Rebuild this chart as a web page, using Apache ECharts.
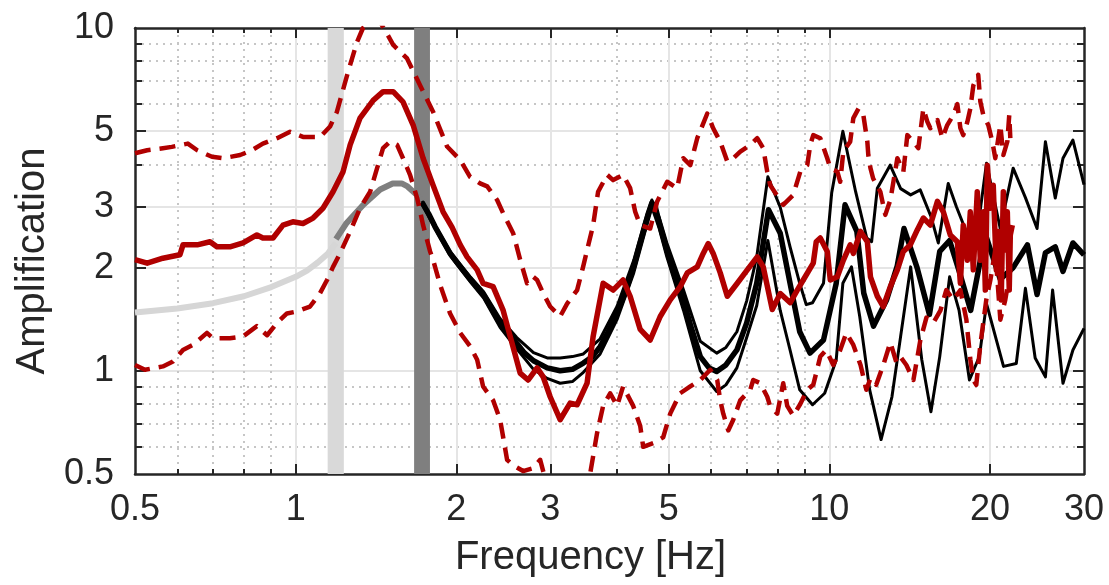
<!DOCTYPE html>
<html>
<head>
<meta charset="utf-8">
<script src="https://cdn.jsdelivr.net/npm/echarts@6.0.0/dist/echarts.min.js"></script>
<style>
html,body{margin:0;padding:0;background:#fff;}
#container{width:1109px;height:585px;}
</style>
</head>
<body>
<div id="container"></div>
<script>
// tick positions / labels
var xLabels = [0.5, 1, 2, 3, 5, 10, 20, 30];
var xMajor = [1, 2, 3, 5, 10, 20];
var xMinor = [0.6, 0.7, 0.8, 0.9, 4, 6, 7, 8, 9];
var yLabels = [0.5, 1, 2, 3, 5, 10];
var yMajor = [1, 2, 3, 5];
var yMinor = [0.6, 0.7, 0.8, 0.9, 4, 6, 7, 8, 9];

// frequency bands [from, to] in Hz
var bandLight = [1.148, 1.231];
var bandDark = [1.667, 1.785];

// [frequency, amplification]
var lightCurve = [[0.5,1.48],[0.6,1.52],[0.7,1.575],[0.8,1.65],[0.9,1.755],[1.0,1.88],[1.05,1.96],[1.1,2.07],[1.15,2.2],[1.19,2.36]];
var darkCurve = [[1.19,2.42],[1.246,2.70],[1.339,3.05],[1.44,3.38],[1.52,3.52],[1.58,3.52],[1.62,3.45],[1.686,3.26],[1.725,3.12]];

var blackMean = [[1.725,3.10],[1.775,2.87],[1.825,2.63],[1.947,2.20],[2.04,2.0],[2.13,1.84],[2.25,1.665],[2.33,1.52],[2.415,1.378],[2.596,1.204],[2.68,1.13],[2.79,1.07],[2.96,1.02],[3.13,1.0],[3.3,1.01],[3.46,1.053],[3.6,1.1],[3.72,1.177],[3.85,1.3],[4.0,1.473],[4.15,1.7],[4.3,2.015],[4.4,2.3],[4.5,2.6],[4.57,2.85],[4.65,3.09],[4.72,3.0],[4.8,2.7],[4.96,2.25],[5.1,1.95],[5.33,1.61],[5.5,1.35],[5.73,1.10],[5.95,1.02],[6.15,0.995],[6.4,1.04],[6.71,1.15],[7.0,1.38],[7.31,1.80],[7.5,2.3],[7.69,2.95],[8.09,2.52],[8.44,1.80],[8.8,1.30],[9.2,1.126],[9.75,1.23],[10.3,1.8],[10.7,3.05],[11.26,2.55],[11.6,1.685],[12.1,1.35],[12.8,1.61],[13.4,2.02],[13.8,2.6],[14.6,2.0],[15.4,1.46],[16.1,2.23],[16.8,2.4],[17.6,1.9],[18.4,1.5],[19.6,2.5],[20.9,1.85],[22.1,2.0],[23.5,2.33],[24.5,1.67],[25.4,2.21],[26.5,2.3],[27.4,1.95],[28.6,2.36],[30,2.18]];
var blackUpper = [[1.725,3.13],[1.825,2.66],[1.947,2.23],[2.13,1.87],[2.25,1.70],[2.415,1.42],[2.596,1.25],[2.79,1.13],[2.96,1.09],[3.13,1.09],[3.3,1.1],[3.46,1.12],[3.72,1.24],[4.0,1.54],[4.3,2.1],[4.5,2.7],[4.65,3.15],[4.8,2.8],[4.96,2.36],[5.33,1.72],[5.73,1.22],[6.15,1.126],[6.4,1.17],[6.71,1.30],[7.0,1.6],[7.31,2.15],[7.67,3.68],[8.09,3.0],[8.44,2.3],[8.8,1.8],[9.05,1.56],[9.3,1.58],[9.75,1.8],[10.1,3.3],[10.6,5.0],[11.2,3.33],[11.75,2.44],[12.0,2.38],[12.3,3.41],[13.0,3.98],[13.6,3.4],[14.2,3.26],[14.8,3.37],[15.5,2.82],[16.0,2.36],[16.7,3.52],[17.3,3.01],[18.1,2.52],[18.7,2.2],[19.7,4.03],[20.9,2.6],[22.1,3.9],[23.3,3.2],[24.5,2.6],[25.4,4.66],[26.5,3.19],[27.4,4.17],[28.6,4.71],[30,3.49]];
var blackLower = [[1.725,3.07],[1.825,2.6],[1.947,2.17],[2.13,1.81],[2.25,1.63],[2.415,1.34],[2.596,1.16],[2.79,1.01],[2.96,0.95],[3.13,0.92],[3.3,0.93],[3.46,0.99],[3.72,1.12],[4.0,1.41],[4.3,1.93],[4.5,2.5],[4.65,3.0],[4.8,2.6],[4.96,2.15],[5.33,1.5],[5.73,1.0],[6.15,0.87],[6.4,0.91],[6.71,1.02],[7.0,1.25],[7.31,1.55],[7.67,2.4],[8.09,1.5],[8.44,1.15],[8.8,0.88],[9.3,0.796],[9.8,0.86],[10.3,1.076],[10.6,1.8],[11.0,2.01],[11.4,1.44],[11.9,0.88],[12.5,0.63],[13.1,0.84],[13.6,1.26],[14.2,2.01],[14.9,1.077],[15.5,0.76],[16.1,1.1],[16.8,1.88],[17.5,1.5],[18.3,0.94],[19.1,1.1],[19.7,1.57],[21.2,1.03],[22.4,1.05],[23.3,1.74],[24.3,1.09],[25.4,0.96],[26.2,1.72],[27.4,0.92],[28.6,1.15],[30,1.33]];

var redMean = [[0.500,2.11],[0.527,2.06],[0.564,2.13],[0.607,2.18],[0.615,2.33],[0.654,2.33],[0.691,2.38],[0.712,2.30],[0.753,2.30],[0.797,2.36],[0.846,2.49],[0.868,2.44],[0.907,2.44],[0.947,2.66],[0.988,2.72],[1.032,2.69],[1.078,2.79],[1.125,2.98],[1.175,3.33],[1.227,3.81],[1.265,4.56],[1.320,5.46],[1.397,6.15],[1.458,6.52],[1.523,6.52],[1.589,6.09],[1.660,5.21],[1.733,4.17],[1.809,3.48],[1.889,2.91],[1.964,2.62],[2.034,2.33],[2.095,2.15],[2.188,1.97],[2.245,1.80],[2.344,1.76],[2.448,1.50],[2.523,1.26],[2.634,0.985],[2.726,0.94],[2.834,1.02],[2.909,0.96],[2.998,0.84],[3.130,0.72],[3.268,0.805],[3.368,0.796],[3.516,0.92],[3.609,1.26],[3.768,1.80],[3.934,1.72],[4.107,1.84],[4.234,1.65],[4.422,1.32],[4.617,1.23],[4.820,1.44],[5.033,1.61],[5.254,1.76],[5.417,1.93],[5.655,2.01],[5.803,2.20],[5.930,2.35],[6.058,2.20],[6.245,1.93],[6.438,1.65],[6.721,1.80],[7.018,1.97],[7.326,2.15],[7.518,2.01],[7.816,1.51],[8.091,1.68],[8.447,1.58],[8.707,1.72],[8.934,1.84],[9.329,2.06],[9.450,2.38],[9.616,2.44],[9.909,2.23],[10.04,1.84],[10.35,1.88],[10.62,2.10],[10.94,2.33],[11.09,2.20],[11.44,2.55],[11.78,2.38],[11.94,1.88],[12.30,1.65],[12.62,1.54],[13.01,1.76],[13.41,1.97],[13.76,2.23],[14.18,2.33],[14.62,2.58],[15.00,2.79],[15.46,2.66],[15.94,3.12],[16.35,2.91],[16.85,2.49],[17.37,2.38],[17.60,1.80],[17.82,2.66],[18.14,2.10],[18.37,2.91],[18.61,1.97],[18.93,3.33],[19.18,2.10],[19.43,2.91],[19.60,1.72],[19.77,3.98],[20.03,2.98],[20.28,3.48],[20.55,1.97],[20.73,2.55],[20.99,1.61],[21.18,3.33],[21.36,2.25],[21.55,2.91],[21.73,1.72],[21.83,2.49],[22.02,2.66]];
var redUpper = [[0.500,4.31],[0.527,4.40],[0.564,4.46],[0.586,4.50],[0.628,4.60],[0.654,4.40],[0.697,4.21],[0.731,4.17],[0.787,4.26],[0.828,4.40],[0.868,4.60],[0.923,4.77],[0.976,4.98],[1.032,4.81],[1.111,4.81],[1.160,5.16],[1.195,5.70],[1.249,7.30],[1.303,9.10],[1.337,10.0],[1.391,10.5],[1.440,10.4],[1.490,9.50],[1.523,8.93],[1.617,8.15],[1.711,6.80],[1.809,5.70],[1.922,4.51],[2.034,4.12],[2.122,3.68],[2.216,3.52],[2.285,3.45],[2.385,3.15],[2.448,2.88],[2.556,2.52],[2.634,2.11],[2.714,1.80],[2.786,1.88],[2.834,1.84],[2.909,1.685],[2.998,1.54],[3.130,1.44],[3.226,1.57],[3.368,1.72],[3.456,2.01],[3.516,2.25],[3.609,2.66],[3.687,3.33],[3.834,3.73],[3.934,3.60],[4.107,3.73],[4.234,3.41],[4.327,2.91],[4.422,2.66],[4.617,2.60],[4.758,3.12],[4.968,3.56],[5.186,3.41],[5.324,4.17],[5.488,3.98],[5.655,4.77],[5.905,5.63],[6.058,5.10],[6.245,4.66],[6.438,4.08],[6.606,4.17],[6.809,4.36],[7.109,4.56],[7.326,4.77],[7.518,4.46],[7.649,3.81],[7.749,3.48],[8.195,3.05],[8.557,3.26],[8.821,3.81],[9.090,3.98],[9.209,4.56],[9.329,4.87],[9.616,4.77],[9.909,4.17],[10.04,3.90],[10.35,3.81],[10.48,3.56],[10.62,4.36],[10.94,4.66],[11.09,5.46],[11.34,5.82],[11.58,5.57],[11.78,4.66],[11.83,4.26],[11.94,3.90],[12.08,3.64],[12.46,3.33],[12.73,2.85],[13.01,3.15],[13.41,4.17],[13.76,3.81],[14.00,4.87],[14.37,4.66],[14.68,4.46],[15.00,5.82],[15.26,5.33],[15.46,5.10],[15.94,5.39],[16.28,4.77],[16.63,5.21],[17.07,5.57],[17.37,6.00],[17.60,5.10],[17.82,4.87],[18.14,5.33],[18.37,5.82],[18.61,6.80],[19.01,7.30],[19.18,6.10],[19.43,5.57],[19.85,5.21],[20.20,4.66],[20.46,4.17],[20.91,5.21],[21.18,4.26],[21.55,4.66],[21.73,5.57],[21.83,4.77]];
var redLower = [[0.500,1.04],[0.522,1.007],[0.564,1.03],[0.589,1.064],[0.615,1.15],[0.642,1.19],[0.682,1.29],[0.700,1.245],[0.753,1.245],[0.797,1.26],[0.846,1.35],[0.884,1.27],[0.923,1.38],[0.963,1.47],[1.006,1.49],[1.064,1.54],[1.111,1.685],[1.145,1.84],[1.175,2.01],[1.211,2.20],[1.265,2.55],[1.320,2.98],[1.379,3.33],[1.421,3.90],[1.458,4.46],[1.503,4.66],[1.549,4.56],[1.589,4.17],[1.638,3.73],[1.689,3.19],[1.733,2.66],[1.786,2.23],[1.809,2.11],[1.865,1.78],[1.947,1.47],[2.034,1.29],[2.122,1.18],[2.188,1.077],[2.245,0.90],[2.344,0.82],[2.416,0.72],[2.448,0.64],[2.490,0.55],[2.556,0.53],[2.668,0.51],[2.786,0.52],[2.872,0.55],[2.960,0.46],[3.130,0.42],[3.412,0.42],[3.562,0.50],[3.672,0.66],[3.768,0.79],[3.884,0.86],[4.003,0.79],[4.107,0.90],[4.290,0.79],[4.422,0.69],[4.479,0.60],[4.676,0.615],[4.883,0.64],[5.033,0.75],[5.254,0.86],[5.488,0.90],[5.729,0.94],[5.982,1.007],[6.164,0.94],[6.245,0.82],[6.327,0.75],[6.465,0.67],[6.606,0.72],[6.809,0.82],[7.109,0.88],[7.200,0.94],[7.422,0.92],[7.649,0.84],[7.749,0.787],[7.987,0.75],[8.195,0.92],[8.338,0.79],[8.557,0.74],[8.821,0.80],[9.090,0.88],[9.329,0.91],[9.616,1.10],[9.866,1.15],[10.17,1.04],[10.48,1.15],[10.76,1.29],[11.09,1.19],[11.44,1.04],[11.73,0.88],[11.94,0.95],[12.24,0.91],[12.62,1.04],[13.01,1.21],[13.35,1.06],[13.58,1.10],[13.94,1.04],[14.37,0.94],[14.81,1.23],[15.20,1.43],[15.66,1.38],[16.15,1.50],[16.56,1.72],[17.07,1.61],[17.60,1.72],[18.06,1.41],[18.37,1.08],[18.61,0.94],[18.85,0.91],[19.18,1.19],[19.68,1.61],[20.03,1.84],[20.46,2.25],[20.91,1.41],[21.36,1.61],[21.83,1.97]];

var dom = document.getElementById("container");
var myChart = echarts.init(dom);

var FONT = 'Liberation Sans, Arial, sans-serif';
var INK = '#262626';
var RED = '#b00000';

function fmt(v) { return String(+(+v).toPrecision(3)); }

// one log axis; ticks / split lines come from customValues
function axis(kind, pos, ticks, len, labels, split) {
    var a = {
        type: 'log', logBase: 10, position: pos,
        min: 0.5, max: kind == 'x' ? 30 : 10,
        axisLine: { show: !!labels || pos == 'top' || pos == 'right', onZero: false, lineStyle: { color: INK, width: 2.5 } },
        axisTick: { show: true, inside: true, length: len, customValues: ticks, lineStyle: { color: INK, width: 2 } },
        axisLabel: { show: false },
        splitLine: { show: false },
        axisPointer: { show: false }
    };
    if (labels) {
        a.axisLabel = { show: true, customValues: labels, formatter: fmt, fontSize: 36, color: INK, fontFamily: FONT, margin: kind == 'x' ? 18 : 21 };
    }
    if (split == 'solid') a.splitLine = { show: true, lineStyle: { color: '#e5e5e5', width: 2 } };
    if (split == 'dot') a.splitLine = { show: true, lineStyle: { color: '#c6c6c6', width: 2, type: [2, 5] } };
    return a;
}

var xs = [
    axis('x', 'bottom', xMajor, 10, xLabels, 'solid'),
    axis('x', 'bottom', xMinor, 5, null, 'dot'),
    axis('x', 'top', xMajor, 10, null, null),
    axis('x', 'top', xMinor, 5, null, null)
];
xs[0].name = 'Frequency [Hz]';
xs[0].nameLocation = 'middle';
xs[0].nameGap = 64;
xs[0].nameTextStyle = { fontSize: 40, color: INK, fontFamily: FONT, padding: [0, 38, 0, 0] };
xs[3].axisLine.show = false;

var ys = [
    axis('y', 'left', yMajor, 11, yLabels, 'solid'),
    axis('y', 'left', yMinor, 7, null, 'dot'),
    axis('y', 'right', yMajor, 11, null, null),
    axis('y', 'right', yMinor, 7, null, null)
];
ys[0].name = 'Amplification';
ys[0].nameLocation = 'middle';
ys[0].nameRotate = 90;
ys[0].nameGap = 76;
ys[0].nameTextStyle = { fontSize: 40, color: INK, fontFamily: FONT, padding: [0, 20, 0, 0] };
ys[3].axisLine.show = false;

function line(data, color, width, type, z) {
    return {
        type: 'line', data: data, xAxisIndex: 0, yAxisIndex: 0,
        showSymbol: false, symbol: 'none', silent: true, z: z,
        lineStyle: { color: color, width: width, type: type || 'solid', cap: 'butt', join: 'round' },
        emphasis: { disabled: true }
    };
}

var lightS = line(lightCurve, '#d6d6d6', 6, null, 2);
lightS.markArea = {
    silent: true,
    data: [
        [{ xAxis: bandLight[0], itemStyle: { color: '#d9d9d9', opacity: 1 } }, { xAxis: bandLight[1] }],
        [{ xAxis: bandDark[0], itemStyle: { color: '#7f7f7f', opacity: 1 } }, { xAxis: bandDark[1] }]
    ]
};

var option = {
    animation: false,
    backgroundColor: '#fff',
    textStyle: { fontFamily: FONT },
    grid: { left: 135, right: 25, top: 28, bottom: 111, show: false },
    xAxis: xs,
    yAxis: ys,
    series: [
        lightS,
        line(darkCurve, '#7f7f7f', 6, null, 3),
        line(blackUpper, '#000', 3, null, 4),
        line(blackLower, '#000', 3, null, 4),
        line(blackMean, '#000', 5.5, null, 5),
        line(redUpper, RED, 4.5, [16, 9], 6),
        line(redLower, RED, 4.5, [16, 9], 6),
        line(redMean, RED, 5.5, null, 7)
    ]
};

myChart.setOption(option);
</script>
</body>
</html>
